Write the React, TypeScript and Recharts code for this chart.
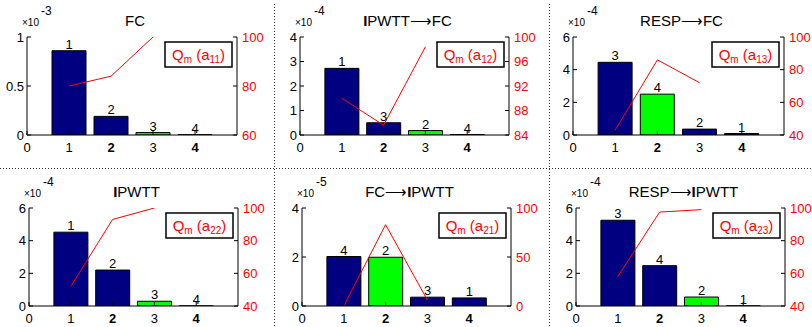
import { ComposedChart, Bar, Line, XAxis, YAxis, Cell, LabelList } from "recharts";

// shared x layout: four candidates at 1..4, axis runs 0..5
const positions = [1, 2, 3, 4];
const xTicks = [0, 1, 2, 3, 4];
const boldTicks = [2, 4];

// FC
const fcBars = [0.86, 0.19, 0.025, 0.002];
const fcRanks = ["1", "2", "3", "4"];
const fcQm = [80, 84, 100, null];

// IPWTT -> FC
const ipToFcBars = [2.72, 0.5, 0.18, 0.02];
const ipToFcRanks = ["1", "3", "2", "4"];
const ipToFcQm = [90, 85.6, 98.4, null];

// RESP -> FC
const respToFcBars = [4.45, 2.5, 0.36, 0.09];
const respToFcRanks = ["3", "4", "2", "1"];
const respToFcQm = [43, 86, 72, null];

// IPWTT
const ipBars = [4.52, 2.2, 0.29, 0.005];
const ipRanks = ["1", "2", "3", "4"];
const ipQm = [52, 93, 100, null];

// FC -> IPWTT
const fcToIpBars = [2.02, 1.99, 0.36, 0.33];
const fcToIpRanks = ["4", "2", "3", "1"];
const fcToIpQm = [0, 83, 6, null];

// RESP -> IPWTT
const respToIpBars = [5.25, 2.47, 0.55, 0.005];
const respToIpRanks = ["3", "4", "2", "1"];
const respToIpQm = [58, 97.5, 99, null];

const NAVY = "#000080";
const GREEN = "#00ff00";
const RED = "#ff0000";
const FONT = "'Liberation Sans', Arial, Helvetica, sans-serif";

const PLOT_H = 98;
const AXIS_H = 21;
const TOP_PAD = 37;
const RIGHT_W = 40;

const panels = [
  { title: "FC", exp: "-3", sub: "11", bars: fcBars, ranks: fcRanks, qm: fcQm, green: 2,
    left: [0, 1], leftTicks: [0, 0.5, 1], right: [60, 100], rightTicks: [60, 80, 100],
    col: 0, row: 0, x0: 27, x1: 237 },
  { title: "IPWTT⟶FC", exp: "-4", sub: "12", bars: ipToFcBars, ranks: ipToFcRanks, qm: ipToFcQm, green: 2,
    left: [0, 4], leftTicks: [0, 1, 2, 3, 4], right: [84, 100], rightTicks: [84, 88, 92, 96, 100],
    col: 274, row: 0, x0: 300, x1: 509 },
  { title: "RESP⟶FC", exp: "-4", sub: "13", bars: respToFcBars, ranks: respToFcRanks, qm: respToFcQm, green: 1,
    left: [0, 6], leftTicks: [0, 1, 2, 3, 4, 5, 6], right: [40, 100], rightTicks: [40, 60, 80, 100],
    col: 549, row: 0, x0: 573, x1: 784 },
  { title: "IPWTT", exp: "-4", sub: "22", bars: ipBars, ranks: ipRanks, qm: ipQm, green: 2,
    left: [0, 6], leftTicks: [0, 2, 4, 6], right: [40, 100], rightTicks: [40, 60, 80, 100],
    col: 0, row: 171, x0: 29, x1: 238 },
  { title: "FC⟶IPWTT", exp: "-5", sub: "21", bars: fcToIpBars, ranks: fcToIpRanks, qm: fcToIpQm, green: 1,
    left: [0, 4], leftTicks: [0, 2, 4], right: [0, 100], rightTicks: [0, 50, 100],
    col: 274, row: 171, x0: 302, x1: 511 },
  { title: "RESP⟶IPWTT", exp: "-4", sub: "23", bars: respToIpBars, ranks: respToIpRanks, qm: respToIpQm, green: 2,
    left: [0, 6], leftTicks: [0, 2, 4, 6], right: [40, 100], rightTicks: [40, 60, 80, 100],
    col: 549, row: 171, x0: 576, x1: 785 },
];

const XTick = ({ x, y, payload }: any) => (
  <text
    x={x}
    y={y}
    dy="0.71em"
    textAnchor="middle"
    fontSize={13}
    fill="#000"
    fontWeight={boldTicks.includes(payload.value) ? "bold" : "normal"}
  >
    {payload.value}
  </text>
);

const Panel = ({ p }: any) => {
  const data = positions.map((x, i) => ({ x, v: p.bars[i], rank: p.ranks[i], q: p.qm[i] }));
  const width = p.x1 + RIGHT_W - p.col;
  return (
    <div style={{ position: "absolute", left: p.col, top: p.row }}>
      <ComposedChart
        width={width}
        height={TOP_PAD + PLOT_H + AXIS_H}
        data={data}
        margin={{ top: TOP_PAD, right: 0, bottom: 0, left: 0 }}
      >
        <XAxis
          dataKey="x"
          type="number"
          domain={[0, 5]}
          ticks={xTicks}
          allowDataOverflow
          height={AXIS_H}
          tickSize={-4}
          tickMargin={12}
          axisLine={{ stroke: "#000" }}
          tickLine={{ stroke: "#000" }}
          tick={<XTick />}
        />
        <XAxis
          xAxisId="top"
          orientation="top"
          type="number"
          domain={[0, 5]}
          ticks={xTicks}
          allowDataOverflow
          height={0}
          tickSize={-4}
          tick={false}
          axisLine={{ stroke: "#000" }}
          tickLine={{ stroke: "#000" }}
        />
        <YAxis
          yAxisId="left"
          type="number"
          domain={p.left}
          ticks={p.leftTicks}
          allowDataOverflow
          width={p.x0 - p.col}
          tickSize={-4}
          tickMargin={7}
          axisLine={{ stroke: "#000" }}
          tickLine={{ stroke: "#000" }}
          tick={{ fill: "#000", fontSize: 13 }}
        />
        <YAxis
          yAxisId="right"
          orientation="right"
          type="number"
          domain={p.right}
          ticks={p.rightTicks}
          allowDataOverflow
          width={RIGHT_W}
          tickSize={-4}
          tickMargin={9}
          axisLine={{ stroke: "#000" }}
          tickLine={{ stroke: "#000" }}
          tick={{ fill: RED, fontSize: 13 }}
        />
        <Bar dataKey="v" yAxisId="left" barSize={34} stroke="#000" strokeWidth={1} isAnimationActive={false}>
          {data.map((_, i) => (
            <Cell key={i} fill={i === p.green ? GREEN : NAVY} />
          ))}
          <LabelList dataKey="rank" position="top" offset={2} fill="#000" fontSize={13} />
        </Bar>
        <Line
          dataKey="q"
          yAxisId="right"
          type="linear"
          stroke={RED}
          strokeWidth={1}
          dot={false}
          activeDot={false}
          isAnimationActive={false}
        />
      </ComposedChart>
    </div>
  );
};

// bold the leading I of IPWTT in titles
const titleParts = (t: string) =>
  t.split(/(I)(?=PWTT)/).filter(Boolean).map((s, i) => (
    <tspan key={i} fontWeight={s === "I" ? "bold" : "normal"}>{s}</tspan>
  ));

const Annotations = () => (
  <svg width={812} height={327} style={{ position: "absolute", left: 0, top: 0, pointerEvents: "none" }}>
    <line x1={0} x2={812} y1={168.5} y2={168.5} stroke="#333" strokeDasharray="1 2" />
    <line x1={274.5} x2={274.5} y1={4} y2={327} stroke="#333" strokeDasharray="1 2" />
    <line x1={549.5} x2={549.5} y1={4} y2={327} stroke="#333" strokeDasharray="1 2" />
    {panels.map((p, i) => {
      const top = p.row + TOP_PAD;
      const cx = (p.x0 + p.x1) / 2 + 3;
      const bx = p.x1 - 72;
      const by = top + 5;
      return (
        <g key={i}>
          <text x={cx} y={top - 11} textAnchor="middle" fontSize={15} fill="#000">
            {titleParts(p.title)}
          </text>
          <text x={p.x0 - 5} y={top - 11} fontSize={10} fill="#000">×10</text>
          <text x={p.x0 + 14} y={top - 22} fontSize={12} fill="#000">{p.exp}</text>
          <rect x={bx} y={by} width={67} height={25} fill="#fff" stroke="#000" strokeWidth={1.5} />
          <text x={bx + 33.5} y={by + 18} textAnchor="middle" fontSize={15} fill={RED}>
            <tspan>Q</tspan>
            <tspan fontSize={10} dy={3}>m</tspan>
            <tspan dy={-3}> (a</tspan>
            <tspan fontSize={10} dy={3}>{p.sub}</tspan>
            <tspan dy={-3}>)</tspan>
          </text>
        </g>
      );
    })}
  </svg>
);

export default function App() {
  return (
    <div
      style={{
        position: "absolute",
        left: 0,
        top: 0,
        width: 812,
        height: 327,
        overflow: "hidden",
        background: "#fff",
        fontFamily: FONT,
      }}
    >
      {panels.map((p, i) => (
        <Panel key={i} p={p} />
      ))}
      <Annotations />
    </div>
  );
}
